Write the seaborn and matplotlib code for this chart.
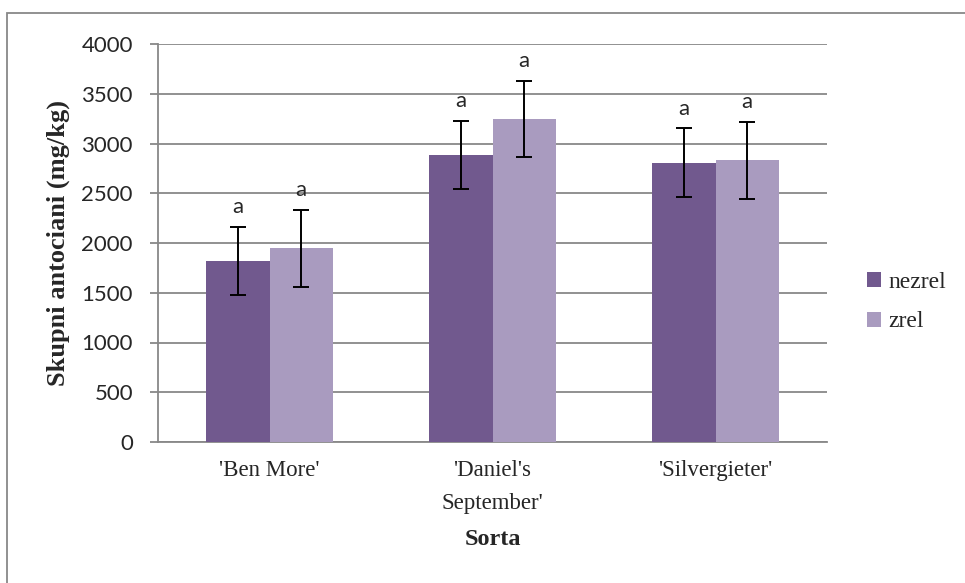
import matplotlib
matplotlib.use("Agg")
import matplotlib.pyplot as plt
from matplotlib.patches import Rectangle, Patch
import seaborn as sns
import pandas as pd

# Total anthocyanins per cultivar, unripe vs ripe fruit
cultivars = ["'Ben More'", "'Daniel's\nSeptember'", "'Silvergieter'"]
groups = ["nezrel", "zrel"]
nezrel_vals = [1819, 2888, 2808]
zrel_vals = [1946, 3250, 2831]
nezrel_err = [345, 343, 343]
zrel_err = [384, 383, 385]
letters_nezrel = ["a", "a", "a"]
letters_zrel = ["a", "a", "a"]
y_ticks = [0, 500, 1000, 1500, 2000, 2500, 3000, 3500, 4000]

df = pd.DataFrame({
    "Sorta": cultivars * 2,
    "stage": [groups[0]] * 3 + [groups[1]] * 3,
    "value": nezrel_vals + zrel_vals,
})

colors = {"nezrel": "#71598e", "zrel": "#a99bbf"}
grid_col = "#888888"
serif = ["Liberation Serif", "DejaVu Serif"]
sans = ["Lato", "DejaVu Sans"]

sns.set_theme(style="white")
plt.rcParams["font.family"] = sans

fig = plt.figure(figsize=(9.65, 5.83), dpi=100)
ax = fig.add_axes([158 / 965, 1 - 442 / 583, (827 - 158) / 965, (442 - 44) / 583])

sns.barplot(data=df, x="Sorta", y="value", hue="stage", order=cultivars,
            hue_order=groups, palette=colors, width=0.57, errorbar=None,
            saturation=1, linewidth=0, ax=ax, zorder=3, legend=False)

errs = [nezrel_err, zrel_err]
vals = [nezrel_vals, zrel_vals]
letters = [letters_nezrel, letters_zrel]
for cont, e, v, lab in zip(ax.containers, errs, vals, letters):
    xs = [p.get_x() + p.get_width() / 2 for p in cont.patches]
    ax.errorbar(xs, v, yerr=e, fmt="none", ecolor="black", elinewidth=1.4,
                capsize=6, capthick=1.4, zorder=4)
    for x, val, err, t in zip(xs, v, e, lab):
        ax.annotate(t, (x, val + err), xytext=(0, 7), textcoords="offset points",
                    ha="center", va="bottom", fontsize=16, family=sans)

ax.set_ylim(0, 4000)
ax.set_xlim(-0.5, 2.5)
ax.set_yticks(y_ticks)
ax.set_yticklabels([str(t) for t in y_ticks], fontsize=16, family=sans)
ax.yaxis.grid(True, color=grid_col, linewidth=1.3, zorder=0)
ax.set_axisbelow(True)
ax.tick_params(axis="y", which="major", left=True, length=6, width=1.3,
               color=grid_col, pad=12)
ax.tick_params(axis="x", bottom=False, pad=7)
for lbl in ax.get_xticklabels():
    lbl.set_fontfamily(serif)
    lbl.set_fontsize(16.5)
    lbl.set_linespacing(1.75)

for s in ["top", "right"]:
    ax.spines[s].set_visible(False)
for s in ["left", "bottom"]:
    ax.spines[s].set_color(grid_col)
    ax.spines[s].set_linewidth(1.3)

ax.set_ylabel("Skupni antociani (mg/kg)", fontsize=19, fontweight="bold",
              family=serif, labelpad=8)
ax.set_xlabel("Sorta", fontsize=17.5, fontweight="bold", family=serif, labelpad=11)

handles = [Patch(facecolor=colors[g], edgecolor="none") for g in groups]
fig.legend(handles, groups, loc="center left", bbox_to_anchor=(846 / 965, 1 - 302 / 583),
           frameon=False, prop={"family": serif, "size": 17}, handlelength=0.6,
           handleheight=0.6, handletextpad=0.3, labelspacing=0.8)

# outer chart frame
fig.patches.append(Rectangle((7 / 965, -0.05), 1.2, 1 - 13 / 583 + 0.05,
                             transform=fig.transFigure, fill=False,
                             edgecolor=grid_col, linewidth=1.3))

fig.savefig("out.png", dpi=100)
